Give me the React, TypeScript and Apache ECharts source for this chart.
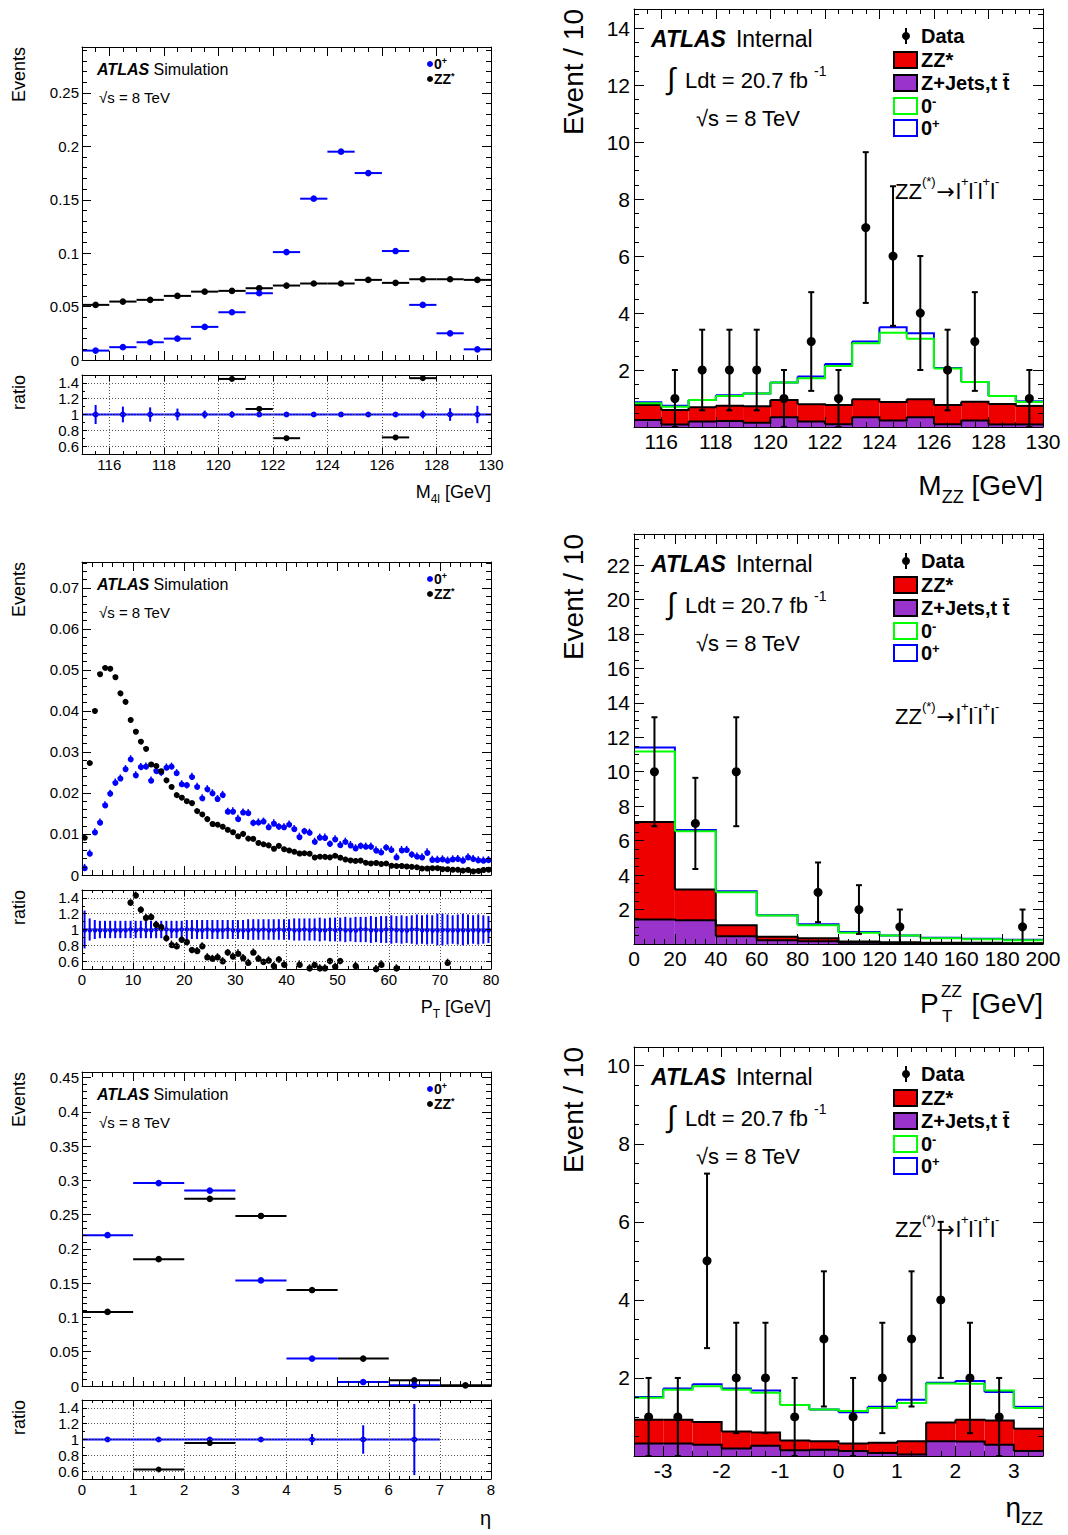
import React, { useEffect, useRef } from "react";
import * as echarts from "echarts";

const FONT = "'Liberation Sans', Arial, Helvetica, sans-serif";
const BLUE = "#0000ff";
const GREEN = "#00ff00";
const RED = "#ee0000";
const PURPLE = "#9933cc";
const BLACK = "#000000";

type Num = number | null;

// ===== Top-left: M4l (normalised simulation) =====
const M4L_EDGES = [115, 116, 117, 118, 119, 120, 121, 122, 123, 124, 125, 126, 127, 128, 129, 130];
const M4L_0P = [0.0088, 0.012, 0.0166, 0.02, 0.031, 0.0447, 0.0625, 0.101, 0.151, 0.195, 0.175, 0.102, 0.0516, 0.025, 0.01];
const M4L_ZZ = [0.0516, 0.0547, 0.0563, 0.06, 0.064, 0.0647, 0.0672, 0.0697, 0.0716, 0.0716, 0.075, 0.0722, 0.0756, 0.0756, 0.075];
const M4L_RATIO_ZZ: Num[] = [null, null, null, null, null, 1.45, 1.07, 0.7, null, null, null, 0.71, 1.46, null, null];
const M4L_RATIO_0P_ERR = [0.12, 0.1, 0.09, 0.075, 0.05, 0.04, 0.02, 0.01, 0.008, 0.008, 0.008, 0.01, 0.05, 0.08, 0.11];

// ===== Middle-left: pT (80 bins of 1 GeV) =====
const PT_EDGES = Array.from({ length: 81 }, (_, i) => i);
const PT_ZZ = [
  0.0093, 0.0275, 0.0402, 0.0492, 0.0507, 0.0505, 0.0485, 0.0445, 0.0424, 0.038,
  0.0352, 0.0327, 0.031, 0.0272, 0.0268, 0.0253, 0.0233, 0.0217, 0.0197, 0.0191,
  0.018, 0.0177, 0.0158, 0.015, 0.0138, 0.0127, 0.0125, 0.012, 0.0112, 0.0107,
  0.0097, 0.0102, 0.0091, 0.0088, 0.008, 0.0077, 0.0074, 0.0067, 0.0071, 0.0065,
  0.0062, 0.0059, 0.0055, 0.0053, 0.0054, 0.0045, 0.0047, 0.0047, 0.0043, 0.0049,
  0.0044, 0.004, 0.0038, 0.0036, 0.0035, 0.0032, 0.003, 0.0032, 0.0029, 0.0028,
  0.0025, 0.0024, 0.0025, 0.0023, 0.002, 0.0021, 0.0018, 0.0019, 0.0019, 0.0019,
  0.0016, 0.0016, 0.0015, 0.0015, 0.0013, 0.0014, 0.0012, 0.0013, 0.0014, 0.0015,
];
const PT_0P = [
  0.0019, 0.0054, 0.0106, 0.013, 0.0172, 0.02, 0.0227, 0.0237, 0.026, 0.0284,
  0.0245, 0.0265, 0.0266, 0.0232, 0.0256, 0.025, 0.0264, 0.0266, 0.025, 0.0223,
  0.0219, 0.0241, 0.0217, 0.0189, 0.0211, 0.0201, 0.0187, 0.0197, 0.0156, 0.0157,
  0.0139, 0.0154, 0.0153, 0.0127, 0.013, 0.0132, 0.0118, 0.0128, 0.0118, 0.0118,
  0.0125, 0.0114, 0.0095, 0.0107, 0.0105, 0.0083, 0.0093, 0.0093, 0.0076, 0.0089,
  0.0075, 0.0083, 0.0075, 0.0067, 0.0071, 0.0071, 0.0071, 0.0062, 0.0057, 0.0067,
  0.0063, 0.0045, 0.0063, 0.0063, 0.005, 0.0047, 0.0045, 0.0057, 0.0039, 0.0039,
  0.004, 0.0037, 0.004, 0.0041, 0.0037, 0.0045, 0.0041, 0.0038, 0.0037, 0.0038,
];
const PT_ZZ_ERR = 0.0003;
const PT_0P_ERR = 0.0008;
const PT_RATIO_ZZ: Num[] = [
  null, null, null, null, null, null, null, null, null, 1.34,
  1.44, 1.25, 1.16, 1.17, 1.06, 1.03, 0.89, 0.82, 0.8, 0.87,
  0.84, 0.74, 0.74, 0.8, 0.66, 0.64, 0.66, 0.61, 0.71, 0.67,
  0.71, 0.65, 0.59, 0.72, 0.64, 0.59, 0.62, 0.55, 0.62, 0.57,
  null, null, 0.57, null, 0.52, 0.55, 0.52, 0.52, 0.6, 0.54,
  0.6, null, null, 0.55, null, null, null, 0.51, 0.57, null,
  null, 0.52, null, null, null, null, null, null, null, null,
  null, 0.59, null, null, null, null, null, null, null, null,
];
const PT_RATIO_ZZ_ERR = 0.04;
const PT_RATIO_0P_ERR = [
  0.24, 0.14, 0.12, 0.11, 0.11, 0.11, 0.11, 0.11, 0.11, 0.11,
  0.11, 0.11, 0.11, 0.11, 0.11, 0.11, 0.11, 0.11, 0.11, 0.11,
  0.12, 0.12, 0.12, 0.12, 0.12, 0.12, 0.12, 0.12, 0.12, 0.12,
  0.12, 0.12, 0.13, 0.13, 0.13, 0.13, 0.13, 0.13, 0.13, 0.13,
  0.13, 0.14, 0.14, 0.14, 0.14, 0.14, 0.15, 0.14, 0.15, 0.15,
  0.15, 0.16, 0.15, 0.16, 0.16, 0.16, 0.17, 0.16, 0.17, 0.17,
  0.18, 0.17, 0.18, 0.17, 0.18, 0.19, 0.18, 0.19, 0.18, 0.2,
  0.2, 0.19, 0.18, 0.19, 0.2, 0.19, 0.18, 0.19, 0.18, 0.17,
];

// ===== Bottom-left: eta =====
const ETA_EDGES = [0, 1, 2, 3, 4, 5, 6, 7, 8];
const ETA_0P: Num[] = [0.22, 0.296, 0.285, 0.154, 0.04, 0.0058, 0.001, null];
const ETA_ZZ: Num[] = [0.108, 0.185, 0.273, 0.248, 0.14, 0.04, 0.0083, 0.001];
const ETA_RATIO_ZZ: Num[] = [null, 0.62, 0.955, null, null, null, null, null];
const ETA_RATIO_0P_ERR: Num[] = [0.01, 0.01, 0.01, 0.02, 0.07, 0.18, 0.45, null];

// ===== Top-right: M_ZZ with data =====
const MZZ_EDGES = [115, 116, 117, 118, 119, 120, 121, 122, 123, 124, 125, 126, 127, 128, 129, 130];
const MZZ_ZJETS = [0.25, 0.09, 0.19, 0.21, 0.15, 0.34, 0.19, 0.1, 0.34, 0.23, 0.34, 0.1, 0.23, 0.09, 0.09];
const MZZ_ZZ = [0.52, 0.51, 0.5, 0.54, 0.58, 0.61, 0.61, 0.67, 0.63, 0.65, 0.63, 0.67, 0.66, 0.72, 0.65];
const MZZ_0M_TOTAL = [0.83, 0.71, 0.95, 1.09, 1.18, 1.56, 1.71, 2.14, 2.94, 3.31, 3.1, 2.05, 1.58, 1.09, 0.88];
const MZZ_0P_TOTAL = [0.87, 0.75, 0.95, 1.11, 1.18, 1.56, 1.77, 2.21, 3.0, 3.5, 3.29, 2.07, 1.58, 1.09, 0.9];
const MZZ_DATA = [0, 1, 2, 2, 2, 1, 3, 1, 7, 6, 4, 2, 3, 0, 1];

// ===== Middle-right: pT^ZZ with data =====
const PTZZ_EDGES = [0, 20, 40, 60, 80, 100, 120, 140, 160, 180, 200];
const PTZZ_ZJETS = [1.42, 1.38, 0.45, 0.22, 0.16, 0.07, 0.05, 0.03, 0.03, 0.03];
const PTZZ_ZZ = [5.66, 1.78, 0.64, 0.2, 0.18, 0.07, 0.05, 0.04, 0.04, 0.02];
const PTZZ_0M_TOTAL = [11.18, 6.54, 3.0, 1.65, 1.09, 0.65, 0.49, 0.34, 0.28, 0.22];
const PTZZ_0P_TOTAL = [11.41, 6.62, 3.06, 1.67, 1.15, 0.69, 0.5, 0.36, 0.3, 0.24];
const PTZZ_DATA = [10, 7, 10, 0, 3, 2, 1, 0, 0, 1];

// ===== Bottom-right: eta_ZZ with data =====
const ETAZZ_EDGES = [-3.5, -3, -2.5, -2, -1.5, -1, -0.5, 0, 0.5, 1, 1.5, 2, 2.5, 3, 3.5];
const ETAZZ_ZJETS = [0.32, 0.32, 0.29, 0.19, 0.26, 0.15, 0.16, 0.13, 0.08, 0.04, 0.38, 0.37, 0.29, 0.13];
const ETAZZ_ZZ = [0.61, 0.61, 0.58, 0.44, 0.34, 0.25, 0.22, 0.19, 0.26, 0.34, 0.48, 0.56, 0.62, 0.57];
const ETAZZ_0M_TOTAL = [1.49, 1.7, 1.79, 1.7, 1.62, 1.31, 1.19, 1.15, 1.23, 1.36, 1.86, 1.85, 1.68, 1.23];
const ETAZZ_0P_TOTAL = [1.51, 1.73, 1.84, 1.73, 1.68, 1.31, 1.19, 1.12, 1.26, 1.44, 1.88, 1.92, 1.64, 1.26];
const ETAZZ_DATA = [1, 1, 5, 2, 2, 1, 3, 1, 2, 3, 4, 2, 1, 0];

// ===== layout =====
const GRIDS = [
  { left: 82, top: 47, width: 409, height: 313 },
  { left: 82, top: 375, width: 409, height: 79 },
  { left: 82, top: 562, width: 409, height: 313 },
  { left: 82, top: 890, width: 409, height: 79 },
  { left: 82, top: 1072, width: 409, height: 314 },
  { left: 82, top: 1400, width: 409, height: 79 },
  { left: 634, top: 9, width: 409, height: 418 },
  { left: 634, top: 534, width: 409, height: 410 },
  { left: 634, top: 1047, width: 409, height: 409 },
];

const RATIO_Y = { min: 0.5, max: 1.5, split: 5, minor: 0.1, majLen: 5, minLen: 3, labels: true, fontSize: 15, margin: 3, showMin: false, showMax: false, grid: true };
const AXIS_SPECS: any[] = [
  { x: { min: 115, max: 130, split: 7, minor: 0.5, majLen: 9, minLen: 5, labels: false },
    y: { min: 0, max: 0.293, interval: 0.05, minor: 0.01, majLen: 9, minLen: 5, labels: true, fontSize: 15, margin: 3, showMax: false } },
  { x: { min: 115, max: 130, split: 7, minor: 0.5, majLen: 6, minLen: 3, labels: true, fontSize: 15, margin: 3, showMin: false, grid: true }, y: RATIO_Y },
  { x: { min: 0, max: 80, interval: 10, minor: 2, majLen: 9, minLen: 5, labels: false },
    y: { min: 0, max: 0.0763, interval: 0.01, minor: 0.002, majLen: 9, minLen: 5, labels: true, fontSize: 15, margin: 3, showMax: false } },
  { x: { min: 0, max: 80, interval: 10, minor: 2, majLen: 6, minLen: 3, labels: true, fontSize: 15, margin: 3, grid: true }, y: RATIO_Y },
  { x: { min: 0, max: 8, interval: 1, minor: 0.2, majLen: 9, minLen: 5, labels: false },
    y: { min: 0, max: 0.458, interval: 0.05, minor: 0.01, majLen: 9, minLen: 5, labels: true, fontSize: 15, margin: 3, showMax: false } },
  { x: { min: 0, max: 8, interval: 1, minor: 0.2, majLen: 6, minLen: 3, labels: true, fontSize: 15, margin: 3, grid: true }, y: RATIO_Y },
  { x: { min: 115, max: 130, split: 7, minor: 0.5, majLen: 10, minLen: 5, labels: true, fontSize: 21, margin: 4, showMin: false },
    y: { min: 0, max: 14.67, interval: 2, minor: 0.5, majLen: 10, minLen: 5, labels: true, fontSize: 21, margin: 4, showMin: false, showMax: false } },
  { x: { min: 0, max: 200, interval: 20, minor: 5, majLen: 10, minLen: 5, labels: true, fontSize: 21, margin: 4 },
    y: { min: 0, max: 23.8, interval: 2, minor: 0.5, majLen: 10, minLen: 5, labels: true, fontSize: 21, margin: 4, showMin: false, showMax: false } },
  { x: { min: -3.5, max: 3.5, split: 7, minor: 0.25, majLen: 10, minLen: 5, labels: true, fontSize: 21, margin: 4, showMin: false, showMax: false },
    y: { min: 0, max: 10.48, interval: 2, minor: 0.5, majLen: 10, minLen: 5, labels: true, fontSize: 21, margin: 4, showMin: false, showMax: false } },
];

function mkAxis(gi: number, s: any, position: string, withLabels: boolean, minor: boolean) {
  const label: any = { show: withLabels, color: BLACK, fontFamily: FONT, fontSize: s.fontSize ?? 15, margin: s.margin ?? 3 };
  if (s.showMin !== undefined) label.showMinLabel = s.showMin;
  if (s.showMax !== undefined) label.showMaxLabel = s.showMax;
  const ax: any = {
    type: "value", gridIndex: gi, position, min: s.min, max: s.max, z: 10, silent: true,
    axisLine: { show: !minor, onZero: false, lineStyle: { color: BLACK, width: 1 } },
    axisTick: { show: true, inside: true, length: minor ? s.minLen : s.majLen, lineStyle: { color: BLACK, width: 1 } },
    axisLabel: label,
    splitLine: { show: !minor && withLabels && !!s.grid, lineStyle: { color: "#555", width: 1, type: [1, 2] } },
    minorTick: { show: false },
    minorSplitLine: { show: false },
    axisPointer: { show: false },
  };
  if (minor) ax.interval = s.minor;
  else if (s.interval != null) ax.interval = s.interval;
  else ax.splitNumber = s.split;
  return ax;
}

function binPoints(edges: number[], vals: Num[], errs: Num[] | number) {
  const out: number[][] = [];
  vals.forEach((v, i) => {
    if (v == null) return;
    const e = typeof errs === "number" ? errs : (errs[i] ?? 0);
    out.push([(edges[i] + edges[i + 1]) / 2, v, edges[i], edges[i + 1], v - e, v + e]);
  });
  return out;
}

function dataPoints(edges: number[], counts: number[]) {
  const vals = counts.map((n) => (n > 0 ? n : null));
  return binPoints(edges, vals, counts.map((n) => Math.sqrt(n)));
}

function buildOption() {
  const xAxis: any[] = [];
  const yAxis: any[] = [];
  const AX: { x: number; y: number }[] = [];
  AXIS_SPECS.forEach((sp, gi) => {
    const xi = xAxis.length;
    const yi = yAxis.length;
    xAxis.push(mkAxis(gi, sp.x, "bottom", sp.x.labels, false), mkAxis(gi, sp.x, "bottom", false, true),
      mkAxis(gi, sp.x, "top", false, false), mkAxis(gi, sp.x, "top", false, true));
    yAxis.push(mkAxis(gi, sp.y, "left", sp.y.labels, false), mkAxis(gi, sp.y, "left", false, true),
      mkAxis(gi, sp.y, "right", false, false), mkAxis(gi, sp.y, "right", false, true));
    AX.push({ x: xi, y: yi });
  });

  const base = (gi: number, z: number) => ({
    type: "custom", coordinateSystem: "cartesian2d", xAxisIndex: AX[gi].x, yAxisIndex: AX[gi].y,
    silent: true, z, animation: false,
  });

  const pts = (gi: number, data: number[][], color: string, o: any) => ({
    ...base(gi, o.z ?? 6),
    data,
    encode: { x: 0, y: 1 },
    renderItem: (_p: any, api: any) => {
      const xc = api.value(0), y = api.value(1), xl = api.value(2), xh = api.value(3), yl = api.value(4), yh = api.value(5);
      const c = api.coord([xc, y]);
      const st = { stroke: color, lineWidth: o.lw, fill: null };
      const kids: any[] = [];
      if (o.hbar && xh > xl) {
        const a = api.coord([xl, y]), b = api.coord([xh, y]);
        kids.push({ type: "line", shape: { x1: a[0], y1: a[1], x2: b[0], y2: b[1] }, style: st });
      }
      if (yh > yl) {
        const a = api.coord([xc, yl]), b = api.coord([xc, yh]);
        kids.push({ type: "line", shape: { x1: a[0], y1: a[1], x2: b[0], y2: b[1] }, style: st });
        if (o.cap) {
          kids.push({ type: "line", shape: { x1: a[0] - o.cap, y1: a[1], x2: a[0] + o.cap, y2: a[1] }, style: st });
          kids.push({ type: "line", shape: { x1: b[0] - o.cap, y1: b[1], x2: b[0] + o.cap, y2: b[1] }, style: st });
        }
      }
      kids.push({ type: "circle", shape: { cx: c[0], cy: c[1], r: o.r }, style: { fill: color } });
      return { type: "group", children: kids };
    },
  });

  const fill = (gi: number, edges: number[], lo: number[], hi: number[], color: string) => ({
    ...base(gi, 2),
    data: lo.map((l, i) => [edges[i], edges[i + 1], l, hi[i]]),
    encode: { x: 0, y: 3 },
    renderItem: (_p: any, api: any) => {
      const a = api.coord([api.value(0), api.value(3)]);
      const b = api.coord([api.value(1), api.value(2)]);
      return { type: "rect", shape: { x: a[0], y: a[1], width: b[0] - a[0], height: b[1] - a[1] }, style: { fill: color } };
    },
  });

  const step = (gi: number, edges: number[], vals: number[], color: string, lw: number, z: number) => ({
    ...base(gi, z),
    data: vals.map((v, i) => [edges[i], edges[i + 1], v, i + 1 < vals.length ? vals[i + 1] : v]),
    encode: { x: 0, y: 2 },
    renderItem: (_p: any, api: any) => {
      const p1 = api.coord([api.value(0), api.value(2)]);
      const p2 = api.coord([api.value(1), api.value(2)]);
      const p3 = api.coord([api.value(1), api.value(3)]);
      return { type: "polyline", shape: { points: [p1, p2, p3] }, style: { stroke: color, lineWidth: lw, fill: null } };
    },
  });

  const series: any[] = [];
  // --- left main panels
  series.push(pts(0, binPoints(M4L_EDGES, M4L_ZZ, 0), BLACK, { r: 3.3, lw: 2, hbar: true }));
  series.push(pts(0, binPoints(M4L_EDGES, M4L_0P, 0), BLUE, { r: 3.3, lw: 2, hbar: true }));
  series.push(pts(1, binPoints(M4L_EDGES, M4L_RATIO_0P_ERR.map(() => 1), M4L_RATIO_0P_ERR), BLUE, { r: 3, lw: 2, hbar: true }));
  series.push(pts(1, binPoints(M4L_EDGES, M4L_RATIO_ZZ, 0), BLACK, { r: 3, lw: 2, hbar: true, z: 7 }));

  series.push(pts(2, binPoints(PT_EDGES, PT_0P, PT_0P_ERR), BLUE, { r: 3, lw: 1.5, hbar: true }));
  series.push(pts(2, binPoints(PT_EDGES, PT_ZZ, PT_ZZ_ERR), BLACK, { r: 3, lw: 1.5, hbar: true, z: 7 }));
  series.push(pts(3, binPoints(PT_EDGES, PT_RATIO_0P_ERR.map(() => 1), PT_RATIO_0P_ERR), BLUE, { r: 2.2, lw: 2, hbar: true }));
  series.push(pts(3, binPoints(PT_EDGES, PT_RATIO_ZZ, PT_RATIO_ZZ_ERR), BLACK, { r: 3.2, lw: 1.5, hbar: true, z: 7 }));

  series.push(pts(4, binPoints(ETA_EDGES, ETA_ZZ, 0), BLACK, { r: 3.3, lw: 2, hbar: true }));
  series.push(pts(4, binPoints(ETA_EDGES, ETA_0P, 0), BLUE, { r: 3.3, lw: 2, hbar: true }));
  series.push(pts(5, binPoints(ETA_EDGES, ETA_RATIO_0P_ERR.map((e) => (e == null ? null : 1)), ETA_RATIO_0P_ERR), BLUE, { r: 3, lw: 2, hbar: true }));
  series.push(pts(5, binPoints(ETA_EDGES, ETA_RATIO_ZZ, 0), BLACK, { r: 3, lw: 2, hbar: true, z: 7 }));

  // --- right stacked panels
  const stacked = (gi: number, edges: number[], zj: number[], zz: number[], m0: number[], p0: number[], data: number[]) => {
    const zero = zj.map(() => 0);
    const top = zj.map((v, i) => v + zz[i]);
    series.push(fill(gi, edges, zj, top, RED));
    series.push(fill(gi, edges, zero, zj, PURPLE));
    series.push(step(gi, edges, top, BLACK, 2, 3));
    series.push(step(gi, edges, zj, BLACK, 2, 3));
    series.push(step(gi, edges, p0, BLUE, 2, 4));
    series.push(step(gi, edges, m0, GREEN, 2, 5));
    series.push(pts(gi, dataPoints(edges, data), BLACK, { r: 4.5, lw: 2, cap: 3, z: 8 }));
  };
  stacked(6, MZZ_EDGES, MZZ_ZJETS, MZZ_ZZ, MZZ_0M_TOTAL, MZZ_0P_TOTAL, MZZ_DATA);
  stacked(7, PTZZ_EDGES, PTZZ_ZJETS, PTZZ_ZZ, PTZZ_0M_TOTAL, PTZZ_0P_TOTAL, PTZZ_DATA);
  stacked(8, ETAZZ_EDGES, ETAZZ_ZJETS, ETAZZ_ZZ, ETAZZ_0M_TOTAL, ETAZZ_0P_TOTAL, ETAZZ_DATA);

  // --- texts
  const txt = (x: number, y: number, text: string, size: number, o: any = {}) => {
    const sup = o.sup ?? Math.round(size * 0.62);
    const weight = o.bold ? "bold" : "normal";
    const lh = o.lh ?? Math.round(size * 1.45);
    const b = { fontFamily: FONT, fill: o.color ?? BLACK, fontWeight: weight };
    return {
      type: "text", x, y, rotation: o.rot ?? 0, z: 100, silent: true,
      style: {
        ...b, text, fontSize: size, lineHeight: lh,
        align: o.align ?? "left", verticalAlign: o.va ?? "middle",
        rich: {
          b: { ...b, fontSize: size, lineHeight: lh, fontWeight: "bold", fontStyle: "italic", padding: [0, o.bgap ?? 0, 0, 0] },
          sup: { ...b, fontSize: sup, lineHeight: sup, verticalAlign: "top" },
          sub: { ...b, fontSize: sup, lineHeight: sup, verticalAlign: "bottom" },
          a: { ...b, fontFamily: "'DejaVu Sans', sans-serif", fontSize: size, lineHeight: lh, padding: [0, 1, 0, 1] },
        },
      },
    };
  };

  const G: any[] = [];
  [[0, 1], [2, 3], [4, 5]].forEach(([m, r]) => {
    const T = GRIDS[m].top;
    const L = GRIDS[m].left;
    G.push(txt(19, T, "Events", 18, { rot: Math.PI / 2, align: "right" }));
    G.push(txt(19, GRIDS[r].top, "ratio", 18, { rot: Math.PI / 2, align: "right" }));
    G.push(txt(L + 15, T + 22, "{b|ATLAS} Simulation", 16));
    G.push(txt(L + 17, T + 50, "√s = 8 TeV", 15));
    G.push({ type: "circle", z: 100, silent: true, shape: { cx: L + 348, cy: T + 17, r: 3 }, style: { fill: BLUE } });
    G.push({ type: "circle", z: 100, silent: true, shape: { cx: L + 348, cy: T + 32, r: 3 }, style: { fill: BLACK } });
    G.push(txt(L + 352, T + 17, "0{sup|+}", 14, { bold: true, sup: 9, lh: 15 }));
    G.push(txt(L + 352, T + 32, "ZZ{sup|*}", 14, { bold: true, sup: 9, lh: 15 }));
  });
  G.push(txt(491, 492, "M{sub|4l} [GeV]", 18, { align: "right", sup: 12 }));
  G.push(txt(491, 1007, "P{sub|T} [GeV]", 18, { align: "right", sup: 12 }));
  G.push(txt(491, 1518, "η", 20, { align: "right" }));

  [6, 7, 8].forEach((gi) => {
    const T = GRIDS[gi].top;
    G.push(txt(573, T, "Event / 10", 28, { rot: Math.PI / 2, align: "right" }));
    G.push(txt(651, T + 30, "{b|ATLAS}Internal", 23, { bgap: 10 }));
    G.push(txt(667, T + 69, "∫", 30));
    G.push(txt(685, T + 71, "Ldt = 20.7 fb {sup|-1}", 22, { sup: 14 }));
    G.push(txt(696, T + 109, "√s = 8 TeV", 22));
    const rows = [27, 51, 74, 97, 119].map((d) => T + d);
    G.push({ type: "line", z: 100, silent: true, shape: { x1: 906, y1: rows[0] - 8, x2: 906, y2: rows[0] + 8 }, style: { stroke: BLACK, lineWidth: 2 } });
    G.push({ type: "circle", z: 100, silent: true, shape: { cx: 906, cy: rows[0], r: 4 }, style: { fill: BLACK } });
    const boxes = [
      { fill: RED, stroke: BLACK },
      { fill: PURPLE, stroke: BLACK },
      { fill: "#ffffff", stroke: GREEN },
      { fill: "#ffffff", stroke: BLUE },
    ];
    boxes.forEach((bx, k) => {
      G.push({ type: "rect", z: 100, silent: true, shape: { x: 894, y: rows[k + 1] - 8, width: 23, height: 16 }, style: { fill: bx.fill, stroke: bx.stroke, lineWidth: 2 } });
    });
    const labels = ["Data", "ZZ*", "Z+Jets,t t\u0304", "0{sup|-}", "0{sup|+}"];
    labels.forEach((l, k) => G.push(txt(921, rows[k], l, 20, { bold: true, sup: 13, lh: 22 })));
    G.push(txt(895, T + 182, "ZZ{sup|(*)}{a|→}l{sup|+}l{sup|-}l{sup|+}l{sup|-}", 22, { sup: 13 }));
  });
  G.push(txt(1043, 485, "M{sub|ZZ} [GeV]", 28, { align: "right", sup: 18 }));
  G.push(txt(920, 1003, "P", 28));
  G.push(txt(941, 991, "ZZ", 17));
  G.push(txt(942, 1016, "T", 17));
  G.push(txt(1043, 1003, "[GeV]", 28, { align: "right" }));
  G.push(txt(1043, 1507, "η{sub|ZZ}", 28, { align: "right", sup: 18 }));

  return {
    animation: false,
    backgroundColor: "#ffffff",
    textStyle: { fontFamily: FONT },
    grid: GRIDS.map((g) => ({ ...g, show: false, containLabel: false, outerBoundsMode: "none" })),
    xAxis,
    yAxis,
    series,
    graphic: { elements: G },
  };
}

export default function App() {
  const ref = useRef<HTMLDivElement>(null);
  useEffect(() => {
    if (!ref.current) return;
    const chart = echarts.init(ref.current, null, { renderer: "svg" });
    chart.setOption(buildOption() as any);
    return () => chart.dispose();
  }, []);
  return (
    <div
      ref={ref}
      style={{ position: "absolute", left: 0, top: 0, width: 1068, height: 1535, background: "#ffffff" }}
    />
  );
}
